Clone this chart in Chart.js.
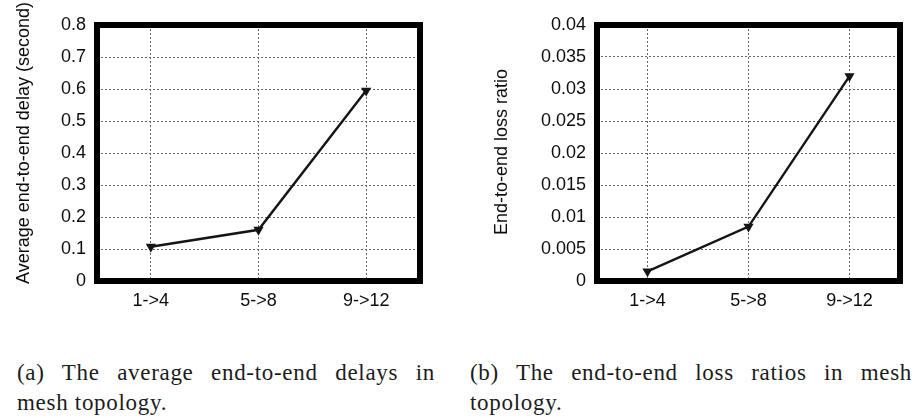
<!DOCTYPE html>
<html>
<head>
<meta charset="utf-8">
<script src="https://cdn.jsdelivr.net/npm/chart.js@4"></script>
<style>
	html, body { margin: 0; padding: 0; background: #fff; }
	body { width: 919px; height: 418px; position: relative; overflow: hidden; }
	.panel { position: absolute; top: 0; height: 320px; }
	.cap { position: absolute; font-family: 'Liberation Serif', 'Times New Roman', serif; font-size: 23px; line-height: 30px; letter-spacing: 0.7px; color: #1c1c1c; }
	.cap .l1 { text-align: justify; text-align-last: justify; white-space: nowrap; }
</style>
</head>
<body>
<div class="panel" style="left:0;width:440px;"><canvas id="delayChart"></canvas></div>
<div class="panel" style="left:470px;width:449px;"><canvas id="lossChart"></canvas></div>

<div class="cap" style="left:17px;top:358px;width:418px;">
	<div class="l1">(a) The average end-to-end delays in</div>
	<div>mesh topology.</div>
</div>
<div class="cap" style="left:470px;top:358px;width:442px;">
	<div class="l1">(b) The end-to-end loss ratios in mesh</div>
	<div>topology.</div>
</div>

<script>
// ---------- Data ----------
var categories = ['1->4', '5->8', '9->12'];

var delayValues = [0.107, 0.160, 0.595];
var delayTicks = [0, 0.1, 0.2, 0.3, 0.4, 0.5, 0.6, 0.7, 0.8];
var delayTickLabels = ['0', '0.1', '0.2', '0.3', '0.4', '0.5', '0.6', '0.7', '0.8'];

var lossValues = [0.0015, 0.0085, 0.032];
var lossTicks = [0, 0.005, 0.01, 0.015, 0.02, 0.025, 0.03, 0.035, 0.04];
var lossTickLabels = ['0', '0.005', '0.01', '0.015', '0.02', '0.025', '0.03', '0.035', '0.04'];

// ---------- Shared styling ----------
var tickFont = { family: "'Liberation Sans', Arial, sans-serif", size: 18 };
var inkColor = '#0d0d0d';
var gridColor = '#666';

// thick black frame round the plot area, plus the rotated y title
var framePlugin = {
	id: 'frame',
	afterDraw: function (chart, args, opts) {
		var a = chart.chartArea;
		var ctx = chart.ctx;
		ctx.save();
		ctx.strokeStyle = '#000';
		ctx.lineWidth = 6;
		ctx.strokeRect(a.left, a.top, a.right - a.left, a.bottom - a.top);

		// y title
		ctx.translate(opts.titleX, opts.titleY);
		ctx.rotate(-Math.PI / 2);
		ctx.font = tickFont.size + 'px ' + tickFont.family;
		ctx.fillStyle = inkColor;
		ctx.textAlign = 'center';
		ctx.textBaseline = 'middle';
		ctx.fillText(opts.title, 0, 0);
		ctx.restore();
	}
};

function makeChart(canvasId, values, ticks, tickLabels, title, opts) {
	var canvas = document.getElementById(canvasId);
	canvas.width = opts.width;
	canvas.height = 320;

	return new Chart(canvas.getContext('2d'), {
		type: 'line',
		data: {
			labels: categories,
			datasets: [{
				data: values,
				borderColor: '#151515',
				borderWidth: 2.4,
				backgroundColor: '#151515',
				pointStyle: 'triangle',
				rotation: 180,
				pointRadius: 3.5,
				pointHoverRadius: 3.5,
				tension: 0
			}]
		},
		options: {
			responsive: false,
			animation: false,
			layout: { padding: { top: 25, right: opts.padRight, left: 0, bottom: 0 } },
			plugins: {
				legend: { display: false },
				tooltip: { enabled: false },
				frame: { title: title, titleX: opts.titleX, titleY: opts.titleY }
			},
			scales: {
				x: {
					offset: true,
					grid: { display: true, offset: false, color: gridColor, lineWidth: 1, drawTicks: false },
					border: { display: false, dash: [2, 2] },
					ticks: { color: inkColor, font: tickFont, padding: 9, maxRotation: 0 },
					afterFit: function (scale) { scale.height = 39; }
				},
				y: {
					min: 0,
					max: ticks[ticks.length - 1],
					afterBuildTicks: function (scale) {
						scale.ticks = ticks.map(function (v) { return { value: v }; });
					},
					grid: { color: gridColor, lineWidth: 1, drawTicks: false },
					border: { display: false, dash: [2, 2] },
					ticks: {
						color: inkColor,
						font: tickFont,
						padding: 11,
						callback: function (value, index) { return tickLabels[index]; }
					},
					afterFit: function (scale) { scale.width = opts.axisWidth; }
				}
			}
		},
		plugins: [framePlugin]
	});
}

makeChart('delayChart', delayValues, delayTicks, delayTickLabels,
	'Average end-to-end delay (second)',
	{ width: 440, padRight: 20, axisWidth: 97, titleX: 24, titleY: 143 });

makeChart('lossChart', lossValues, lossTicks, lossTickLabels,
	'End-to-end loss ratio',
	{ width: 449, padRight: 19, axisWidth: 127, titleX: 32, titleY: 152 });
</script>
</body>
</html>
